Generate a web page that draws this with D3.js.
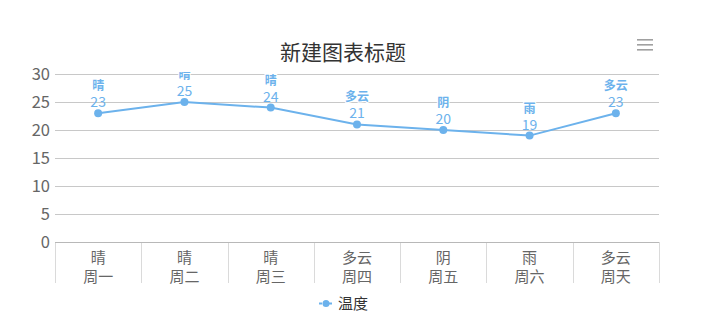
<!DOCTYPE html>
<html>
<head>
<meta charset="utf-8">
<script src="https://cdn.jsdelivr.net/npm/d3@7"></script>
<style>
  body { margin: 0; background: #fff; }
  svg { font-family: "Noto Sans CJK SC", "Noto Sans", sans-serif; }
</style>
</head>
<body>
<svg id="chart" width="712" height="326"></svg>
<script>
// data
const days = ['周一', '周二', '周三', '周四', '周五', '周六', '周天'];
const weather = ['晴', '晴', '晴', '多云', '阴', '雨', '多云'];
const temps = [23, 25, 24, 21, 20, 19, 23];
const yTicks = [0, 5, 10, 15, 20, 25, 30];

const svg = d3.select('#chart');
const lineColor = '#6cb2ec';

const margin = { left: 55, right: 53, top: 74, bottom: 84 };
const W = 712, H = 326;

// scales
const x = d3.scaleBand()
    .domain(days)
    .range([margin.left, W - margin.right]);

const y = d3.scaleLinear()
    .domain([0, 30])
    .range([H - margin.bottom, margin.top]);

// title
svg.append('text')
    .attr('x', 343)
    .attr('y', 60)
    .attr('text-anchor', 'middle')
    .attr('font-size', 21)
    .attr('fill', '#333')
    .text('新建图表标题');

// menu icon
svg.selectAll('.menu')
    .data([0, 1, 2])
    .enter()
    .append('rect')
    .attr('x', 637)
    .attr('y', d => 39 + d * 5)
    .attr('width', 16)
    .attr('height', 1.6)
    .attr('fill', '#a0a0a0');

// grid lines
svg.selectAll('.grid')
    .data(yTicks.filter(d => d > 0))
    .enter()
    .append('line')
    .attr('x1', margin.left)
    .attr('x2', W - margin.right)
    .attr('y1', d => Math.round(y(d)) + 0.5)
    .attr('y2', d => Math.round(y(d)) + 0.5)
    .attr('stroke', '#c8c8c8');

// y labels
svg.selectAll('.ylab')
    .data(yTicks)
    .enter()
    .append('text')
    .attr('x', 50)
    .attr('y', d => y(d) + 6)
    .attr('text-anchor', 'end')
    .attr('font-size', 16.5)
    .attr('fill', '#666')
    .text(d => d);

// x axis ticks (category boundaries)
const bounds = days.map(d => x(d)).concat([x(days[days.length - 1]) + x.bandwidth()]);
svg.selectAll('.xtick')
    .data(bounds)
    .enter()
    .append('line')
    .attr('x1', d => Math.round(d) + 0.5)
    .attr('x2', d => Math.round(d) + 0.5)
    .attr('y1', y(0))
    .attr('y2', y(0) + 41)
    .attr('stroke', '#dadada');

// x axis line
svg.append('line')
    .attr('x1', margin.left)
    .attr('x2', W - margin.right)
    .attr('y1', Math.round(y(0)) + 0.5)
    .attr('y2', Math.round(y(0)) + 0.5)
    .attr('stroke', '#b8b8b8');

// x labels, two lines each
const xlab = svg.selectAll('.xlab')
    .data(days)
    .enter()
    .append('text')
    .attr('text-anchor', 'middle')
    .attr('font-size', 15)
    .attr('fill', '#666');
xlab.append('tspan')
    .attr('x', d => x(d) + x.bandwidth() / 2)
    .attr('y', y(0) + 21)
    .text((d, i) => weather[i]);
xlab.append('tspan')
    .attr('x', d => x(d) + x.bandwidth() / 2)
    .attr('y', y(0) + 40)
    .text(d => d);

// line
const pts = days.map((d, i) => ({ day: d, w: weather[i], t: temps[i] }));
const line = d3.line()
    .x(d => x(d.day) + x.bandwidth() / 2)
    .y(d => y(d.t));

svg.append('path')
    .datum(pts)
    .attr('d', line)
    .attr('fill', 'none')
    .attr('stroke', lineColor)
    .attr('stroke-width', 2);

svg.selectAll('.dot')
    .data(pts)
    .enter()
    .append('circle')
    .attr('cx', d => x(d.day) + x.bandwidth() / 2)
    .attr('cy', d => y(d.t))
    .attr('r', 4)
    .attr('fill', lineColor);

// data labels, clipped to the plot top
svg.append('clipPath')
    .attr('id', 'clip')
    .append('rect')
    .attr('x', 0)
    .attr('y', 72)
    .attr('width', W)
    .attr('height', H);

const labels = svg.append('g').attr('clip-path', 'url(#clip)');

labels.selectAll('.wlab')
    .data(pts)
    .enter()
    .append('text')
    .attr('x', d => x(d.day) + x.bandwidth() / 2)
    .attr('y', d => y(d.t) - 23)
    .attr('text-anchor', 'middle')
    .attr('font-size', 12)
    .attr('font-weight', 'bold')
    .attr('fill', lineColor)
    .attr('stroke', '#fff')
    .attr('stroke-width', 2)
    .attr('paint-order', 'stroke')
    .text(d => d.w);

labels.selectAll('.vlab')
    .data(pts)
    .enter()
    .append('text')
    .attr('x', d => x(d.day) + x.bandwidth() / 2)
    .attr('y', d => y(d.t) - 6)
    .attr('text-anchor', 'middle')
    .attr('font-size', 14)
    .attr('fill', lineColor)
    .text(d => d.t);

// legend
const lg = svg.append('g');
lg.append('line')
    .attr('x1', 319).attr('x2', 333)
    .attr('y1', 303.5).attr('y2', 303.5)
    .attr('stroke', lineColor)
    .attr('stroke-width', 2)
    .attr('stroke-dasharray', '3,2');
lg.append('circle')
    .attr('cx', 326).attr('cy', 303.5)
    .attr('r', 3.5)
    .attr('fill', lineColor);
lg.append('text')
    .attr('x', 338)
    .attr('y', 309)
    .attr('font-size', 15)
    .attr('fill', '#333')
    .text('温度');
</script>
</body>
</html>
